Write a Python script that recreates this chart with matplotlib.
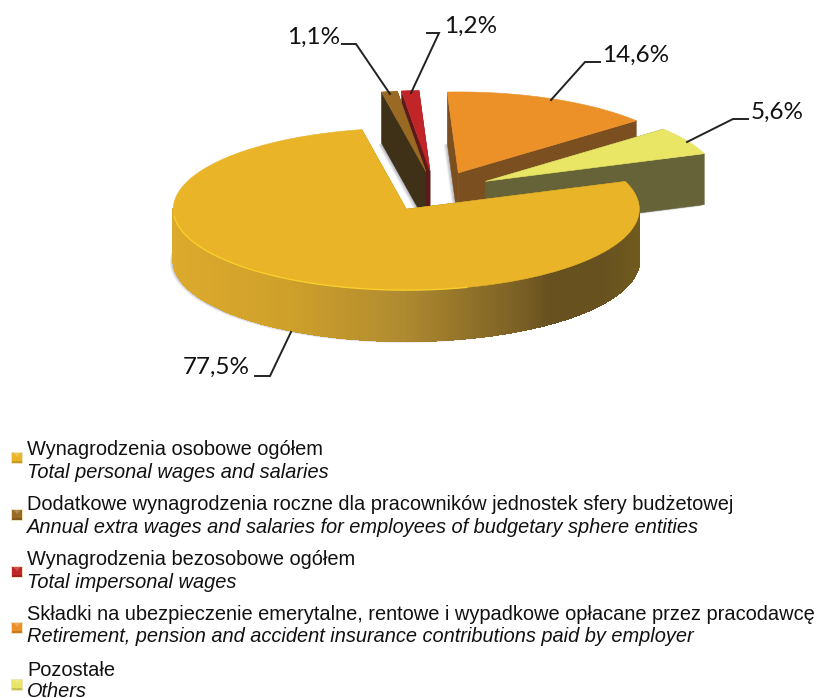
import numpy as np
import matplotlib
matplotlib.use("Agg")
import matplotlib.pyplot as plt
from matplotlib.collections import PolyCollection
from matplotlib.patches import Polygon, Rectangle

names_pl = [
	"Wynagrodzenia osobowe ogółem",
	"Dodatkowe wynagrodzenia roczne dla pracowników jednostek sfery budżetowej",
	"Wynagrodzenia bezosobowe ogółem",
	"Składki na ubezpieczenie emerytalne, rentowe i wypadkowe opłacane przez pracodawcę",
	"Pozostałe",
]
names_en = [
	"Total personal wages and salaries",
	"Annual extra wages and salaries for employees of budgetary sphere entities",
	"Total impersonal wages",
	"Retirement, pension and accident insurance contributions paid by employer",
	"Others",
]
shares = [77.5, 1.1, 1.2, 14.6, 5.6]
share_labels = ["77,5%", "1,1%", "1,2%", "14,6%", "5,6%"]

top_colors = ["#e9b428", "#9a6a24", "#c12527", "#ec9028", "#e9e565"]
wall_colors = ["#8f6f20", "#3f3018", "#5e1a1a", "#7b4f1f", "#656337"]

# pie geometry, in pixels of the picture
CX, CY = 435.0, 191.5
RX, RY = 233.0, 81.0
DEPTH = 51.0
EXPLODE = 0.25
START = 20.0


def arc(cx, cy, a0, a1, n=200):
	t = np.radians(np.linspace(a0, a1, n))
	return np.column_stack([cx + RX * np.cos(t), cy - RY * np.sin(t)])

#end_def


def draw_slice(ax, a0, a1, top, wall):
	mid = np.radians((a0 + a1) / 2.0)
	cx = CX + EXPLODE * RX * np.cos(mid)
	cy = CY - EXPLODE * RY * np.sin(mid)
	down = np.array([0.0, DEPTH])
	apex = np.array([[cx, cy]])
	outline = np.vstack([apex, arc(cx, cy, a0, a1)])

	# soft shadow of the bottom face
	for off, alpha in zip([3.5, 2.5, 1.5], [0.10, 0.14, 0.18]):
		ax.add_patch(Polygon(outline + down + [-off, off * 0.5], closed=True,
			fc="#5a6070", ec="none", alpha=alpha, zorder=1))
	#end_for

	# the two cut faces
	for a in [a0, a1]:
		edge = np.vstack([apex, arc(cx, cy, a, a, 2)[:1]])
		quad = np.vstack([edge, edge[::-1] + down])
		ax.add_patch(Polygon(quad, closed=True, fc=wall, ec=wall, lw=0.3, zorder=2))
	#end_for

	# outer side, only where it faces the viewer
	angles = np.linspace(a0, a1, 400)
	angles = angles[np.sin(np.radians(angles)) < 0]
	if (len(angles) > 1):
		pts = arc(cx, cy, angles[0], angles[-1], len(angles))
		stops_x = cx + RX * np.array([-1.0, -0.5, -0.02, 0.5, 0.62, 0.85, 1.0])
		stops_r = np.array([0xdc, 0xcf, 0xb0, 0x7a, 0x67, 0x67, 0x70]) / 255.0
		stops_g = np.array([0xaa, 0xa0, 0x8b, 0x5f, 0x51, 0x51, 0x5a]) / 255.0
		stops_b = np.array([0x2c, 0x2a, 0x30, 0x25, 0x1f, 0x1f, 0x1e]) / 255.0
		strips = []
		colors = []
		for p, q in zip(pts[:-1], pts[1:]):
			strips.append([p, q, q + down, p + down])
			x = (p[0] + q[0]) / 2.0
			colors.append((np.interp(x, stops_x, stops_r), np.interp(x, stops_x, stops_g), np.interp(x, stops_x, stops_b)))
		#end_for
		ax.add_collection(PolyCollection(strips, facecolors=colors, edgecolors=colors,
			linewidths=0.8, antialiaseds=False, zorder=2))
	#end_if

	ax.add_patch(Polygon(outline, closed=True, fc=top, ec=top, lw=0.4, zorder=2))

	# thin light rim on the front of the big slice
	if (len(angles) > 1):
		rim = arc(cx, cy, 185, 285)
		ax.plot(rim[:, 0], rim[:, 1], color="#f8cf2c", lw=1.0, zorder=2)
	#end_if

#end_def


def draw_key(ax, x, y, size, color):
	ax.add_patch(Rectangle((x, y), size, size, fc="#e8d9a0", ec="none", zorder=3, alpha=0.7))
	ax.add_patch(Rectangle((x + 0.7, y + 0.7), size - 1.4, size - 1.4, fc=color, ec="none", zorder=3))
	ax.add_patch(Polygon([[x + 2.5, y + 1], [x + size - 2.5, y + 1], [x + size / 2.0, y + 5]],
		closed=True, fc="white", ec="none", alpha=0.22, zorder=3))
	ax.add_patch(Rectangle((x + 0.7, y + size - 3), size - 1.4, 2.3, fc="black", ec="none", alpha=0.15, zorder=3))

#end_def


def main():

	fig = plt.figure(figsize=(8.18, 6.98), dpi=100)
	ax = fig.add_axes([0, 0, 1, 1])
	ax.set_xlim(0, 818)
	ax.set_ylim(698, 0)
	ax.axis("off")

	# clockwise from START, back slices painted first, big slice last
	edges = START - np.cumsum([0.0] + shares) * 3.6
	order = [2, 1, 3, 4, 0]
	for i in order:
		draw_slice(ax, edges[i + 1], edges[i], top_colors[i], wall_colors[i])
	#end_for

	# leader lines and value labels
	leaders = [
		[(255, 376), (270, 376), (291, 332)],
		[(342, 44), (356, 44), (390, 94)],
		[(427, 33), (439, 33), (411, 93)],
		[(600, 62), (585, 62), (551, 100)],
		[(748, 119), (733, 119), (687, 142)],
	]
	label_pos = [(216, 367), (314, 37), (471, 26), (636, 55), (777, 112)]
	for pts, lab, pos in zip(leaders, share_labels, label_pos):
		xs = [p[0] for p in pts]
		ys = [p[1] for p in pts]
		ax.plot(xs, ys, color="#222222", lw=1.4, zorder=4, solid_joinstyle="miter")
		ax.text(pos[0], pos[1], lab, family="Lato", fontsize=17.5, color="#111111",
			ha="center", va="center", zorder=5)
	#end_for

	# legend, text placed on its baseline
	pl_y = [455, 510, 565, 620, 676]
	en_y = [478, 533, 588, 642, 697]
	key_y = [452, 509, 566, 622, 679]
	for i in range(len(names_pl)):
		ax.text(27, pl_y[i], names_pl[i], family="Liberation Sans", fontsize=14.4,
			color="#111111", ha="left", va="baseline")
		ax.text(27, en_y[i], names_en[i], family="Liberation Sans", style="italic", fontsize=14.4,
			color="#111111", ha="left", va="baseline")
		draw_key(ax, 11, key_y[i], 12, top_colors[i])
	#end_for

	fig.savefig("out.png", dpi=100)

#end_def


main()
